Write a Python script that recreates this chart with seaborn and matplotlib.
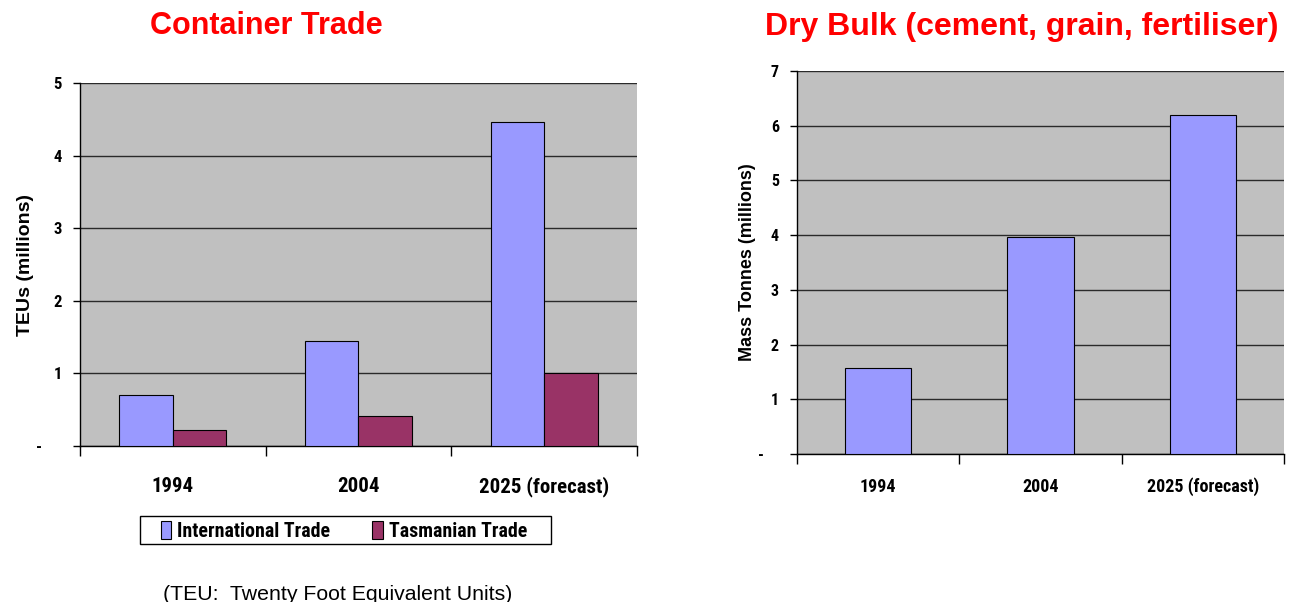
import matplotlib
matplotlib.use("Agg")
import matplotlib.pyplot as plt
from matplotlib import font_manager
from matplotlib.patches import Patch, Rectangle
from matplotlib.ticker import FixedLocator, FuncFormatter
import seaborn as sns
import pandas as pd

# ---------------- data ----------------
years = ["1994", "2004", "2025 (forecast)"]
international_teu = [0.70, 1.45, 4.46]
tasmanian_teu = [0.22, 0.42, 1.00]
dry_bulk_mt = [1.58, 3.97, 6.20]
series_names = ["International Trade", "Tasmanian Trade"]
container_ticks = [0, 1, 2, 3, 4, 5]
bulk_ticks = [0, 1, 2, 3, 4, 5, 6, 7]

# ---------------- style ----------------
sns.set_theme(style="white")
faces = font_manager.fontManager.ttflist
names = {f.name for f in faces}
bold_names = {f.name for f in faces if (isinstance(f.weight, int) and f.weight >= 600) or str(f.weight) in ("bold", "700", "800")}
BASE = "Liberation Sans" if "Liberation Sans" in names else "DejaVu Sans"
NARROW = None
for cand in ["Liberation Sans Narrow", "Arial Narrow", "Roboto Condensed",
             "Archivo Narrow", "PT Sans Narrow", "Pragati Narrow",
             "Fira Sans Condensed", "IBM Plex Sans Condensed",
             "Encode Sans Condensed", "Asap Condensed"]:
    if cand in bold_names:
        NARROW = cand
        break
if NARROW is None:
    NARROW = BASE
    narrow_scale = 0.82
else:
    narrow_scale = 1.0

plt.rcParams["font.family"] = [BASE, "DejaVu Sans"]
for k in ["text.color", "axes.labelcolor", "xtick.color", "ytick.color"]:
    plt.rcParams[k] = "black"

C_INT = "#9999FF"
C_TAS = "#993366"
C_BG = "#C0C0C0"
C_TITLE = "#FF0000"

fig = plt.figure(figsize=(12.94, 6.02), dpi=100)
ax1 = fig.add_axes([80 / 1294, 156 / 602, 557 / 1294, 363 / 602])
ax2 = fig.add_axes([797 / 1294, 148 / 602, 487 / 1294, 383 / 602])

df = pd.DataFrame({
    "Year": years * 2,
    "Series": [series_names[0]] * 3 + [series_names[1]] * 3,
    "Value": international_teu + tasmanian_teu,
})
sns.barplot(data=df, x="Year", y="Value", hue="Series", order=years,
            hue_order=series_names, palette=[C_INT, C_TAS], saturation=1,
            width=0.576, gap=0, edgecolor="black", linewidth=0.8,
            legend=False, ax=ax1, zorder=3)

sns.barplot(x=years, y=dry_bulk_mt, color=C_INT, saturation=1, width=0.41,
            edgecolor="black", linewidth=0.8, ax=ax2, zorder=3)


def make_zero_dash(nspaces):
    def fmt(v, pos):
        return "-" + " " * nspaces if abs(v) < 1e-9 else f"{v:g}"
    return fmt


def style_axes(ax, ticks, ylabel, xsize, ysize, labsize, labx, nsp):
    ax.set_facecolor(C_BG)
    ax.set_xlim(-0.5, 2.5)
    ax.set_ylim(ticks[0], ticks[-1])
    ax.yaxis.set_major_locator(FixedLocator(ticks))
    ax.yaxis.set_major_formatter(FuncFormatter(make_zero_dash(nsp)))
    ax.grid(axis="y", color="#2a2a2a", linewidth=1.0, zorder=1)
    ax.grid(axis="x", visible=False)
    ax.set_axisbelow(True)
    for s in ["top", "right"]:
        ax.spines[s].set_visible(False)
    for s in ["left", "bottom"]:
        ax.spines[s].set_visible(True)
        ax.spines[s].set_color("black")
        ax.spines[s].set_linewidth(1.0)
    ax.set_xticks([0, 1, 2])
    ax.set_xticklabels(years)
    ax.set_xticks([-0.5, 0.5, 1.5, 2.5], minor=True)
    ax.tick_params(axis="x", which="major", length=0)
    ax.tick_params(axis="x", which="minor", length=7, width=1, color="black",
                   direction="out", bottom=True)
    ax.tick_params(axis="y", which="major", length=5, width=1, color="black",
                   direction="out", left=True, pad=8)
    for t in ax.get_xticklabels():
        t.set_fontfamily([NARROW, "DejaVu Sans"])
        t.set_fontweight("bold")
        t.set_fontsize(xsize * narrow_scale)
        t.set_color("black")
    for t in ax.get_yticklabels():
        t.set_fontfamily([NARROW, "DejaVu Sans"])
        t.set_fontweight("bold")
        t.set_fontsize(ysize * narrow_scale)
        t.set_color("black")
    ax.set_xlabel("")
    ax.set_ylabel(ylabel, fontsize=labsize, fontweight="bold", color="black")
    ax.yaxis.set_label_coords(labx, 0.5)
    ax.yaxis.label.set_verticalalignment("center")


style_axes(ax1, container_ticks, "TEUs (millions)", 15, 12, 14,
           (25 - 80) / 557, 5)
style_axes(ax2, bulk_ticks, "Mass Tonnes (millions)", 13, 11.5, 13,
           (747 - 797) / 487, 4)
ax1.tick_params(axis="x", which="major", pad=22)
ax2.tick_params(axis="x", which="major", pad=17)

# titles
fig.text(266 / 1294, 1 - 26 / 602, "Container Trade", color=C_TITLE,
         fontsize=22, fontweight="bold", ha="center", va="center")
fig.text(1022 / 1294, 1 - 27 / 602, "Dry Bulk (cement, grain, fertiliser)",
         color=C_TITLE, fontsize=23, fontweight="bold", ha="center", va="center")

# legend (frame drawn as a separate box)
handles = [Patch(facecolor=C_INT, edgecolor="black", linewidth=0.8),
           Patch(facecolor=C_TAS, edgecolor="black", linewidth=0.8)]
leg = fig.legend(handles, series_names, ncol=2, loc="center",
                 bbox_to_anchor=(344 / 1294, 1 - 531 / 602),
                 bbox_transform=fig.transFigure, frameon=False,
                 handlelength=0.55, handleheight=1.0, handletextpad=0.3,
                 columnspacing=2.1, borderpad=0.1, borderaxespad=0,
                 prop={"family": [NARROW, "DejaVu Sans"], "weight": "bold",
                       "size": 14.3 * narrow_scale})
for t in leg.get_texts():
    t.set_color("black")
fig.patches.append(Rectangle((140 / 1294, 1 - 544 / 602), 411 / 1294, 28 / 602,
                             transform=fig.transFigure, facecolor="none",
                             edgecolor="black", linewidth=1.0))

# footnote
fig.text(163 / 1294, 1 - 594 / 602, "(TEU:  Twenty Foot Equivalent Units)",
         fontsize=15.3, ha="left", va="center", color="black")

fig.savefig("out.png", dpi=100, facecolor="white")
